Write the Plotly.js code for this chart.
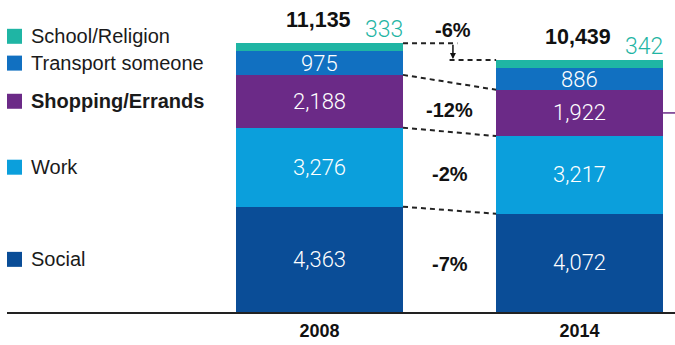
<!DOCTYPE html>
<html><head><meta charset="utf-8">
<script src="https://cdn.plot.ly/plotly-3.0.1.min.js"></script>
<style>html,body{margin:0;padding:0;background:#fff}#chart{width:675px;height:345px}</style>
</head><body><div id="chart"></div>
<script>
const years = ['2008', '2014'];
const categories = ['Social', 'Work', 'Shopping/Errands', 'Transport someone', 'School/Religion'];
const social = [4363, 4072];
const work = [3276, 3217];
const shopping = [2188, 1922];
const transport = [975, 886];
const school = [333, 342];
const totals = [11135, 10439];
const changeSocial = '-7%';
const changeWork = '-2%';
const changeShopping = '-12%';
const changeTotal = '-6%';

const colors = ['#0a4d97', '#0b9fdc', '#6b2a87', '#1170c1', '#1fb5a4'];
const series = [social, work, shopping, transport, school];
const xpos = [0, 1];
const BW = 0.642;
const HW = BW / 2;

const traces = series.map((s, i) => ({
  type: 'bar', x: xpos, y: s, width: BW,
  marker: {color: colors[i], line: {width: 0}},
  name: categories[i], hoverinfo: 'none', showlegend: false
}));

const cum = series.map((s, i) => xpos.map((_, j) => series.slice(0, i).reduce((a, b) => a + b[j], 0)));
const fmt = v => v.toLocaleString('en-US');

const annotations = [];
const shapes = [];
const SANS = 'Liberation Sans, Arial, sans-serif';
const LIGHT = 'Roboto, Liberation Sans, sans-serif';
const barFont = {family: LIGHT, size: 22, color: '#ffffff', weight: 300};
for (let i = 0; i < 4; i++) {
  xpos.forEach((x, j) => {
    annotations.push({x: x, y: cum[i][j] + series[i][j] / 2, xref: 'x', yref: 'y', text: fmt(series[i][j]),
      showarrow: false, font: barFont});
  });
}
xpos.forEach((x, j) => {
  annotations.push({x: x + HW, y: totals[j], xref: 'x', yref: 'y', text: fmt(school[j]), xanchor: 'right', yanchor: 'bottom',
    showarrow: false, xshift: 2, yshift: -2, font: {family: LIGHT, size: 23, color: '#1fb5a4', weight: 300}});
  annotations.push({x: x + 0.13, y: totals[j], xref: 'x', yref: 'y', text: '<b>' + fmt(totals[j]) + '</b>', xanchor: 'right', yanchor: 'bottom',
    showarrow: false, yshift: 9, font: {family: SANS, size: 21.5, color: '#111'}});
});

const pctFont = {family: SANS, size: 20, color: '#111'};
[[0, changeSocial], [1, changeWork], [2, changeShopping]].forEach(([i, t]) => {
  const yc = (cum[i][0] + series[i][0] / 2 + cum[i][1] + series[i][1] / 2) / 2;
  annotations.push({x: 0.5, y: yc, xref: 'x', yref: 'y', text: '<b>' + t + '</b>', showarrow: false, yshift: -3, font: pctFont});
});
annotations.push({x: 0.513, y: totals[0], xref: 'x', yref: 'y', text: '<b>' + changeTotal + '</b>', yanchor: 'bottom', showarrow: false, yshift: 0, font: pctFont});
annotations.push({x: 0.513, y: totals[1], ax: 0.513, ay: totals[0], xref: 'x', yref: 'y', axref: 'x', ayref: 'y', text: '',
  showarrow: true, arrowhead: 2, arrowsize: 0.8, arrowwidth: 1.5, arrowcolor: '#111', standoff: 1});

const dash = {color: '#222', width: 2, dash: '5px,4px'};
shapes.push({type: 'line', xref: 'x', yref: 'y', x0: HW, x1: 0.53, y0: totals[0], y1: totals[0], line: dash});
shapes.push({type: 'line', xref: 'x', yref: 'y', x0: 0.50, x1: 1 - HW, y0: totals[1], y1: totals[1], line: dash});
[3, 2, 1].forEach(i => {
  shapes.push({type: 'line', xref: 'x', yref: 'y', x0: HW, x1: 1 - HW, y0: cum[i][0], y1: cum[i][1], line: dash});
});
shapes.push({type: 'line', xref: 'x', yref: 'y', x0: 1 + HW, x1: 1.4, y0: cum[2][1] + shopping[1] / 2, y1: cum[2][1] + shopping[1] / 2,
  line: {color: '#6b2a87', width: 1.5}});

const legendAnchors = [cum[0][0] + social[0] / 2, cum[1][0] + work[0] / 2, cum[2][0] + shopping[0] / 2, cum[3][0] + transport[0] / 2, totals[0]];
const legendShift = [0, 0, 0, 0, 7];
categories.forEach((c, i) => {
  shapes.push({type: 'rect', xref: 'paper', yref: 'y', xsizemode: 'pixel', ysizemode: 'pixel', xanchor: 0, yanchor: legendAnchors[i],
    x0: 0, x1: 15, y0: legendShift[i] - 7.5, y1: legendShift[i] + 7.5, fillcolor: colors[i], line: {width: 0}});
  annotations.push({x: 0, xref: 'paper', y: legendAnchors[i], yref: 'y', xanchor: 'left', xshift: 22, yshift: legendShift[i],
    text: i === 2 ? '<b>' + c + '</b>' : c, showarrow: false,
    font: {family: SANS, size: 20, color: '#1a1a1a'}});
});

const layout = {
  width: 675, height: 345,
  margin: {l: 7, r: 0, t: 0, b: 33},
  paper_bgcolor: '#fff', plot_bgcolor: '#fff',
  barmode: 'stack',
  showlegend: false,
  xaxis: {range: [-1.202, 1.367], tickvals: xpos, ticktext: years.map(y => '<b>' + y + '</b>'),
    showgrid: false, zeroline: false, showline: true, linecolor: '#222', linewidth: 2, ticks: '',
    ticklabelstandoff: 1, tickfont: {family: SANS, size: 18, color: '#111'}, fixedrange: true},
  yaxis: {range: [0, 12930], visible: false, fixedrange: true},
  annotations: annotations, shapes: shapes
};
Plotly.newPlot('chart', traces, layout, {displayModeBar: false, staticPlot: true});
</script></body></html>
